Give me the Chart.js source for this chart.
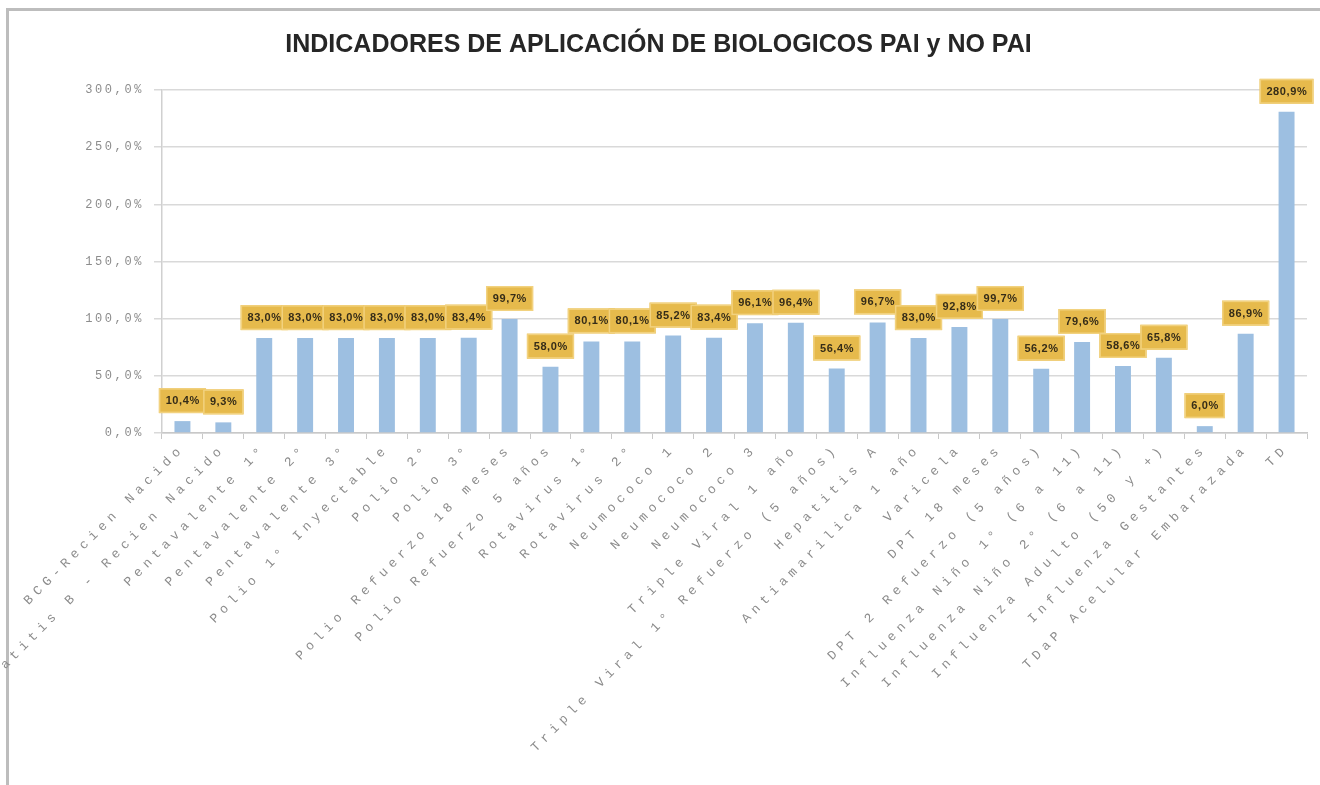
<!DOCTYPE html>
<html>
<head>
<meta charset="utf-8">
<script src="https://cdn.jsdelivr.net/npm/chart.js@4.4.1/dist/chart.umd.min.js"></script>
<style>
  html, body { margin: 0; padding: 0; background: #ffffff; }
  #wrap { position: relative; width: 1320px; height: 785px; overflow: hidden; }
  #frame { position: absolute; left: 6px; top: 8px; right: -10px; bottom: -10px;
           border-top: 3px solid #bdbdbd; border-left: 3px solid #bdbdbd; }
  canvas { position: absolute; left: 0; top: 0; }
</style>
</head>
<body>
<div id="wrap">
  <div id="frame"></div>
  <canvas id="c" width="1320" height="785"></canvas>
</div>
<script>
const titleText = 'INDICADORES DE APLICACIÓN DE BIOLOGICOS PAI y NO PAI';

const categories = [
  'BCG-Recien Nacido',
  'Hepatitis B - Recien Nacido',
  'Pentavalente 1°',
  'Pentavalente 2°',
  'Pentavalente 3°',
  'Polio 1° Inyectable',
  'Polio 2°',
  'Polio 3°',
  'Polio Refuerzo 18 meses',
  'Polio Refuerzo 5 años',
  'Rotavirus 1°',
  'Rotavirus 2°',
  'Neumococo 1',
  'Neumococo 2',
  'Neumococo 3',
  'Triple Viral 1 año',
  'Triple Viral 1° Refuerzo (5 años)',
  'Hepatitis A',
  'Antiamarilica 1 año',
  'Varicela',
  'DPT 18 meses',
  'DPT 2 Refuerzo (5 años)',
  'Influenza Niño 1° (6 a 11)',
  'Influenza Niño 2° (6 a 11)',
  'Influenza Adulto (50 y +)',
  'Influenza Gestantes',
  'TDaP Acelular Embarazada',
  'TD'
];

const coverage = [
  10.4, 9.3, 83.0, 83.0, 83.0, 83.0, 83.0, 83.4, 99.7, 58.0,
  80.1, 80.1, 85.2, 83.4, 96.1, 96.4, 56.4, 96.7, 83.0, 92.8,
  99.7, 56.2, 79.6, 58.6, 65.8, 6.0, 86.9, 280.9
];

const yTicks = [0, 50, 100, 150, 200, 250, 300];

function fmtPct(v) {
  return v.toFixed(1).replace('.', ',') + '%';
}

const spacingPlugin = {
  id: 'spacing',
  beforeDraw(chart) {
    [['x', '5.2px'], ['y', '2.6px']].forEach(([id, sp]) => {
      const s = chart.scales[id];
      if (s && !s._spWrapped) {
        const orig = s.drawLabels.bind(s);
        s.drawLabels = function (area) {
          const c = chart.ctx;
          c.save();
          c.letterSpacing = sp;
          orig(area);
          c.restore();
        };
        s._spWrapped = true;
      }
    });
  }
};

const dataLabelPlugin = {
  id: 'boxLabels',
  afterDatasetsDraw(chart) {
    const ctx = chart.ctx;
    const meta = chart.getDatasetMeta(0);
    const vals = chart.data.datasets[0].data;
    ctx.save();
    ctx.font = 'bold 11px "Liberation Sans", Arial, sans-serif';
    ctx.letterSpacing = '0.6px';
    ctx.textAlign = 'center';
    ctx.textBaseline = 'middle';
    meta.data.forEach((bar, i) => {
      const txt = fmtPct(vals[i]);
      const w = ctx.measureText(txt).width + 13;
      const h = 25;
      const x = bar.x - w / 2;
      const y = bar.y - 8 - h;
      ctx.fillStyle = '#E6BA4C';
      ctx.fillRect(x, y, w, h);
      ctx.strokeStyle = '#F2D27F';
      ctx.lineWidth = 1.5;
      ctx.strokeRect(x + 0.75, y + 0.75, w - 1.5, h - 1.5);
      ctx.fillStyle = '#352c18';
      ctx.fillText(txt, bar.x + 0.3, y + h / 2 + 0.5);
    });
    ctx.restore();
  }
};

new Chart(document.getElementById('c'), {
  type: 'bar',
  data: {
    labels: categories,
    datasets: [{
      data: coverage,
      backgroundColor: '#9DBFE1',
      borderWidth: 0,
      categoryPercentage: 1.0,
      barPercentage: 0.39
    }]
  },
  options: {
    responsive: false,
    animation: false,
    layout: { padding: { left: 10, right: 13, top: 16, bottom: 0 } },
    plugins: {
      legend: { display: false },
      tooltip: { enabled: false },
      title: {
        display: true,
        text: titleText,
        color: '#262626',
        font: { family: '"Liberation Sans", Arial, sans-serif', size: 25, weight: 'bold', lineHeight: 1.2 },
        padding: { top: 14, bottom: 30 }
      }
    },
    scales: {
      x: {
        offset: true,
        afterFit(scale) { scale.height = 352; },
        grid: { display: true, drawOnChartArea: false, drawTicks: true, tickLength: 6, color: '#c8c8c8', offset: true },
        border: { display: true, color: '#c8c8c8', width: 1.5 },
        ticks: {
          autoSkip: false,
          minRotation: 45,
          maxRotation: 45,
          padding: 2,
          color: '#8c8c8c',
          font: { family: '"Liberation Mono", "DejaVu Sans Mono", monospace', size: 13 }
        }
      },
      y: {
        min: 0,
        max: 300,
        afterFit(scale) { scale.width = 152; },
        afterBuildTicks(scale) { scale.ticks = yTicks.map(v => ({ value: v })); },
        grid: { color: '#d9d9d9', lineWidth: 1.5, tickLength: 8, drawTicks: true },
        border: { display: true, color: '#d0d0d0', width: 1.5 },
        ticks: {
          padding: 10,
          color: '#8c8c8c',
          font: { family: '"Liberation Mono", "DejaVu Sans Mono", monospace', size: 12 },
          callback: (v) => fmtPct(v)
        }
      }
    }
  },
  plugins: [spacingPlugin, dataLabelPlugin]
});
</script>
</body>
</html>
